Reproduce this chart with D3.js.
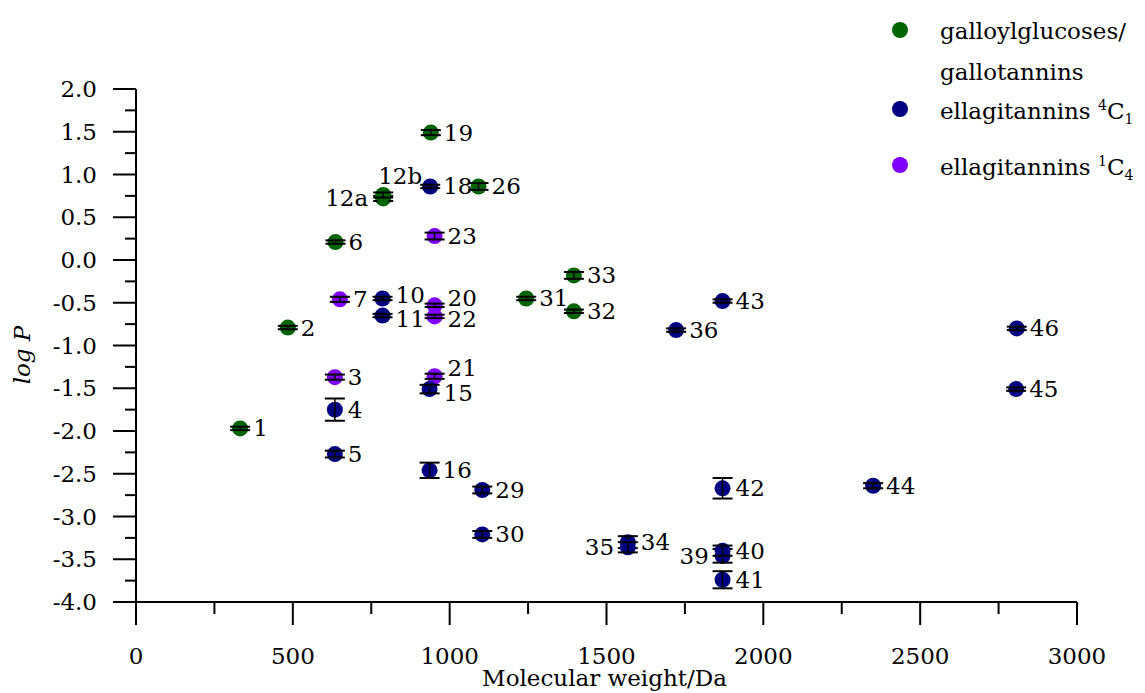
<!DOCTYPE html>
<html>
<head>
<meta charset="utf-8">
<script src="https://cdn.jsdelivr.net/npm/d3@7"></script>
<style>
  body { margin: 0; background: #fff; }
  text { font-family: "DejaVu Serif", "Liberation Serif", serif; fill: #000; }
</style>
</head>
<body>
<div id="chart"></div>
<script>
const width = 1145;
const height = 693;
const fs = 23;

// compound numbers, molecular weight (Da), log P, error, group
const ids = ["1", "2", "6", "12a", "12b", "19", "26", "31", "32", "33",
  "3", "7", "20", "21", "22", "23",
  "4", "5", "10", "11", "15", "16", "18", "29", "30", "34", "35", "36",
  "39", "40", "41", "42", "43", "44", "45", "46"];
const mw = [332, 484, 636, 788, 788, 940, 1092, 1244, 1396, 1396,
  634, 650, 952, 952, 952, 952,
  634, 634, 786, 786, 936, 936, 938, 1104, 1104, 1568, 1568, 1722,
  1870, 1870, 1870, 1870, 1870, 2350, 2806, 2808];
const logP = [-1.97, -0.79, 0.21, 0.72, 0.76, 1.49, 0.86, -0.45, -0.6, -0.18,
  -1.37, -0.46, -0.53, -1.36, -0.66, 0.28,
  -1.75, -2.27, -0.45, -0.65, -1.51, -2.46, 0.86, -2.69, -3.21, -3.3, -3.36, -0.82,
  -3.46, -3.4, -3.74, -2.67, -0.48, -2.64, -1.51, -0.8];
const err = [0.02, 0.02, 0.02, 0.03, 0.03, 0.03, 0.04, 0.02, 0.02, 0.04,
  0.03, 0.03, 0.02, 0.03, 0.02, 0.04,
  0.13, 0.04, 0.02, 0.02, 0.05, 0.09, 0.02, 0.04, 0.04, 0.07, 0.06, 0.02,
  0.08, 0.06, 0.1, 0.12, 0.02, 0.03, 0.02, 0.02];
const group = ["gal", "gal", "gal", "gal", "gal", "gal", "gal", "gal", "gal", "gal",
  "c4", "c4", "c4", "c4", "c4", "c4",
  "c1", "c1", "c1", "c1", "c1", "c1", "c1", "c1", "c1", "c1", "c1", "c1",
  "c1", "c1", "c1", "c1", "c1", "c1", "c1", "c1"];

const xTicks = [0, 500, 1000, 1500, 2000, 2500, 3000];
const yTicks = [2.0, 1.5, 1.0, 0.5, 0.0, -0.5, -1.0, -1.5, -2.0, -2.5, -3.0, -3.5, -4.0];

const colors = { gal: "#006400", c1: "#000080", c4: "#8000ff" };

// labels not placed to the right of their marker
const labelPlace = {
  "12a": { dx: -58, dy: 8 },
  "12b": { dx: -5, dy: -11 },
  "35": { dx: -43, dy: 8 },
  "39": { dx: -43, dy: 8 },
  "15": { dx: 14, dy: 12 },
  "21": { dx: 13, dy: 0 },
  "22": { dx: 13, dy: 11 },
  "20": { dx: 13, dy: 1 },
  "10": { dx: 13, dy: 5 },
  "11": { dx: 13, dy: 11 }
};

const svg = d3.select("#chart").append("svg").attr("width", width).attr("height", height);

const x = d3.scaleLinear().domain([0, 3000]).range([136, 1077]);
const y = d3.scaleLinear().domain([-4, 2]).range([602, 89]);

// axes
const xAxis = svg.append("g").attr("transform", `translate(0,${y(-4)})`);
xAxis.append("line").attr("x1", x(0)).attr("x2", x(3000)).attr("stroke", "#000").attr("stroke-width", 2);
xAxis.selectAll(".minor").data(d3.range(250, 3000, 500)).enter().append("line")
  .attr("x1", x).attr("x2", x).attr("y1", 0).attr("y2", 12)
  .attr("stroke", "#000").attr("stroke-width", 2);
xAxis.selectAll(".major").data(xTicks).enter().append("line")
  .attr("x1", x).attr("x2", x).attr("y1", 0).attr("y2", 23)
  .attr("stroke", "#000").attr("stroke-width", 2);
xAxis.selectAll(".lab").data(xTicks).enter().append("text")
  .attr("x", x).attr("y", 62).attr("text-anchor", "middle").attr("font-size", fs)
  .text(d => d);

const yAxis = svg.append("g").attr("transform", `translate(${x(0)},0)`);
yAxis.append("line").attr("y1", y(2)).attr("y2", y(-4)).attr("stroke", "#000").attr("stroke-width", 2);
yAxis.selectAll(".minor").data(d3.range(-3.75, 2, 0.5)).enter().append("line")
  .attr("y1", y).attr("y2", y).attr("x1", 0).attr("x2", -11)
  .attr("stroke", "#000").attr("stroke-width", 2);
yAxis.selectAll(".major").data(yTicks).enter().append("line")
  .attr("y1", y).attr("y2", y).attr("x1", 0).attr("x2", -23)
  .attr("stroke", "#000").attr("stroke-width", 2);
yAxis.selectAll(".lab").data(yTicks).enter().append("text")
  .attr("x", -39).attr("y", d => y(d) + 8).attr("text-anchor", "end").attr("font-size", fs)
  .text(d => d3.format(".1f")(d).replace("−", "-"));

svg.append("text").attr("x", x(1500) - 2).attr("y", 686).attr("text-anchor", "middle")
  .attr("font-size", fs).text("Molecular weight/Da");

const yt = svg.append("text").attr("transform", "translate(30,355) rotate(-90)")
  .attr("text-anchor", "middle").attr("font-size", fs).attr("font-style", "italic");
yt.append("tspan").text("log ");
yt.append("tspan").text("P");

// points
const points = ids.map((id, i) => ({ id, mw: mw[i], v: logP[i], e: err[i], g: group[i] }));
const pt = svg.append("g").selectAll("g").data(points).enter().append("g");

pt.append("circle")
  .attr("cx", d => x(d.mw)).attr("cy", d => y(d.v)).attr("r", 8)
  .attr("fill", d => colors[d.g]);

pt.append("line")
  .attr("x1", d => x(d.mw)).attr("x2", d => x(d.mw))
  .attr("y1", d => y(d.v - d.e)).attr("y2", d => y(d.v + d.e))
  .attr("stroke", "#000").attr("stroke-width", 1.5);
pt.append("line")
  .attr("x1", d => x(d.mw) - 10).attr("x2", d => x(d.mw) + 10)
  .attr("y1", d => y(d.v - d.e)).attr("y2", d => y(d.v - d.e))
  .attr("stroke", "#000").attr("stroke-width", 2);
pt.append("line")
  .attr("x1", d => x(d.mw) - 10).attr("x2", d => x(d.mw) + 10)
  .attr("y1", d => y(d.v + d.e)).attr("y2", d => y(d.v + d.e))
  .attr("stroke", "#000").attr("stroke-width", 2);

pt.append("text")
  .attr("x", d => x(d.mw) + (labelPlace[d.id] ? labelPlace[d.id].dx : 13))
  .attr("y", d => y(d.v) + (labelPlace[d.id] ? labelPlace[d.id].dy : 8))
  .attr("font-size", fs)
  .text(d => d.id);

// legend
const legend = svg.append("g");
legend.append("circle").attr("cx", 900).attr("cy", 30).attr("r", 8).attr("fill", colors.gal);
legend.append("circle").attr("cx", 900).attr("cy", 109).attr("r", 8).attr("fill", colors.c1);
legend.append("circle").attr("cx", 900).attr("cy", 165).attr("r", 8).attr("fill", colors.c4);
legend.append("text").attr("x", 940).attr("y", 39).attr("font-size", fs).text("galloylglucoses/");
legend.append("text").attr("x", 940).attr("y", 80).attr("font-size", fs).text("gallotannins");

function conf(yPos, sup, sub) {
  const t = legend.append("text").attr("x", 940).attr("y", yPos).attr("font-size", fs);
  t.append("tspan").text("ellagitannins ");
  t.append("tspan").attr("font-size", 14).attr("dy", -9).text(sup);
  t.append("tspan").attr("dy", 9).text("C");
  t.append("tspan").attr("font-size", 14).attr("dy", 5).text(sub);
}
conf(119, "4", "1");
conf(175, "1", "4");
</script>
</body>
</html>
